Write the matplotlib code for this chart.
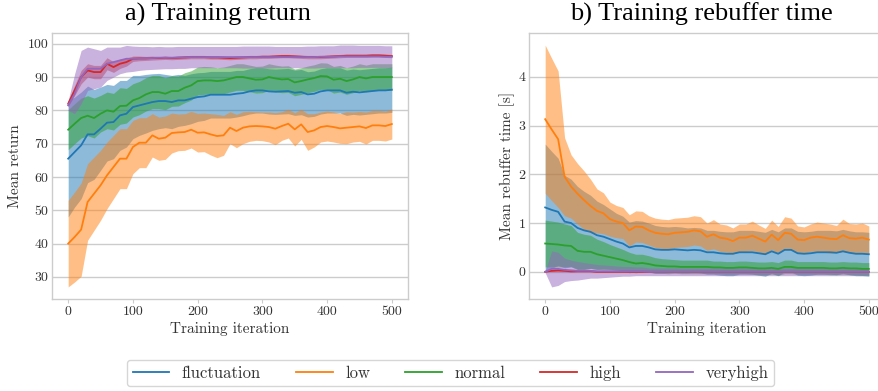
import numpy as np
import matplotlib
matplotlib.use("Agg")
import matplotlib.pyplot as plt

iterations = np.arange(0, 501, 10)

series_names = ["fluctuation", "low", "normal", "high", "veryhigh"]
colors = ["#1f77b4", "#ff7f0e", "#2ca02c", "#d62728", "#9467bd"]

# ---- a) Training return: mean and std ----
ret_fluct_mean = [65.5, 67.5, 69.5, 72.8, 72.8, 74.5, 76.3, 76.5, 78.5, 79.0,
                  81.0, 81.5, 82.0, 82.5, 82.8, 82.8, 82.5, 83.0, 83.0, 83.5,
                  84.0, 84.2, 84.7, 84.7, 84.7, 84.7, 85.0, 85.2, 85.7, 86.0,
                  86.0, 85.7, 85.6, 85.7, 85.8, 85.3, 85.5, 84.8, 85.0, 85.7,
                  86.0, 86.0, 86.0, 85.3, 85.6, 85.4, 85.6, 85.8, 86.0, 86.0, 86.2]
ret_fluct_std = [17.5, 16.5, 16.0, 14.5, 13.5, 12.5, 11.5, 11.0, 10.5, 10.0,
                 9.5, 9.0, 8.8, 8.5, 8.3, 8.0, 8.0, 7.8, 7.5, 7.5,
                 7.3, 7.2, 7.0, 7.0, 7.0, 7.0, 7.0, 6.8, 6.8, 6.8,
                 6.8, 6.8, 6.8, 6.8, 6.8, 6.8, 6.8, 6.8, 6.8, 6.8,
                 6.8, 6.8, 6.8, 6.8, 6.8, 6.8, 6.8, 6.8, 6.8, 6.8, 6.8]
ret_low_mean = [40.0, 42.0, 44.2, 52.5, 55.0, 57.5, 60.5, 63.0, 65.5, 65.5,
                69.0, 70.3, 70.3, 72.5, 71.5, 71.8, 73.2, 73.4, 73.5, 74.2,
                73.3, 73.4, 72.8, 72.3, 72.5, 74.8, 73.8, 74.8, 75.2, 75.3,
                75.2, 75.0, 74.5, 75.3, 76.0, 74.3, 75.8, 73.5, 74.0, 75.0,
                75.3, 75.0, 74.6, 74.8, 75.0, 75.2, 74.7, 75.5, 75.5, 75.3, 75.9]
ret_low_std = [13.0, 13.5, 14.0, 11.5, 11.0, 10.5, 10.0, 9.5, 9.0, 9.0,
               8.0, 7.5, 7.5, 6.5, 6.5, 6.5, 6.0, 5.5, 5.5, 5.5,
               5.8, 5.8, 6.2, 6.5, 6.0, 4.8, 5.0, 4.8, 4.5, 4.3,
               4.3, 4.5, 4.8, 4.3, 4.3, 5.0, 4.5, 5.5, 5.0, 4.5,
               4.5, 4.5, 4.5, 4.8, 4.5, 4.5, 4.8, 4.5, 4.5, 4.5, 4.5]
ret_normal_mean = [74.2, 76.0, 77.7, 78.4, 77.7, 79.0, 80.0, 79.6, 81.3, 81.4,
                   83.0, 83.7, 84.8, 85.5, 85.5, 85.0, 85.8, 85.8, 86.8, 87.5,
                   88.8, 89.0, 89.0, 88.8, 89.0, 89.5, 90.0, 90.0, 89.6, 89.2,
                   89.3, 90.0, 89.6, 89.3, 89.4, 88.4, 88.8, 89.3, 89.7, 90.3,
                   90.2, 89.2, 89.5, 88.8, 89.3, 90.0, 89.6, 90.0, 90.0, 90.0, 90.0]
ret_normal_std = [6.0, 6.0, 6.0, 6.0, 6.0, 5.5, 5.5, 5.5, 5.5, 5.2,
                  5.0, 5.0, 5.0, 5.0, 5.0, 4.8, 4.6, 4.5, 4.5, 4.4,
                  4.2, 4.2, 4.1, 4.0, 4.0, 4.0, 4.0, 4.0, 4.0, 4.0,
                  4.0, 4.0, 4.0, 4.0, 4.0, 4.0, 4.0, 4.0, 4.0, 4.0,
                  4.0, 4.0, 4.0, 4.0, 4.0, 4.0, 4.0, 4.0, 4.0, 4.0, 4.0]
ret_high_mean = [82.0, 86.0, 90.0, 92.0, 91.5, 91.5, 94.0, 93.0, 94.0, 94.5,
                 95.5, 95.6, 95.6, 95.7, 95.7, 95.8, 95.7, 95.8, 95.9, 96.0,
                 96.0, 96.0, 95.9, 95.9, 95.8, 95.7, 95.8, 95.9, 96.0, 96.0,
                 96.1, 96.1, 96.2, 96.3, 96.3, 96.2, 96.1, 96.0, 96.0, 96.0,
                 96.1, 96.2, 96.3, 96.4, 96.4, 96.4, 96.4, 96.5, 96.5, 96.4, 96.3]
ret_high_std = [0.8, 1.5, 2.0, 2.0, 2.0, 2.0, 1.8, 1.6, 1.4, 1.2,
                0.8, 0.7, 0.6, 0.6, 0.5, 0.5, 0.5, 0.5, 0.5, 0.5,
                0.5, 0.5, 0.5, 0.5, 0.5, 0.5, 0.5, 0.5, 0.5, 0.5,
                0.5, 0.5, 0.5, 0.5, 0.5, 0.5, 0.5, 0.5, 0.5, 0.5,
                0.5, 0.5, 0.5, 0.5, 0.5, 0.5, 0.5, 0.5, 0.5, 0.5, 0.5]
ret_veryhigh_mean = [81.5, 85.0, 90.0, 92.5, 92.5, 92.5, 94.0, 94.5, 95.0, 95.5,
                     95.5, 95.6, 95.7, 95.7, 95.8, 95.8, 95.8, 95.9, 95.9, 96.0,
                     96.0, 96.0, 96.0, 96.0, 96.0, 96.0, 96.0, 96.0, 96.0, 96.0,
                     96.0, 96.0, 96.0, 96.0, 96.0, 96.0, 96.0, 96.0, 96.0, 96.1,
                     96.1, 96.1, 96.2, 96.2, 96.2, 96.2, 96.2, 96.2, 96.2, 96.1, 96.1]
ret_veryhigh_std = [1.5, 6.0, 8.0, 6.5, 6.0, 5.5, 5.0, 4.5, 4.0, 4.0,
                    3.8, 3.6, 3.5, 3.4, 3.4, 3.3, 3.3, 3.3, 3.3, 3.2,
                    3.2, 3.2, 3.2, 3.2, 3.2, 3.2, 3.2, 3.3, 3.3, 3.3,
                    3.3, 3.3, 3.2, 3.2, 3.2, 3.2, 3.2, 3.3, 3.3, 3.3,
                    3.3, 3.3, 3.4, 3.4, 3.4, 3.3, 3.3, 3.3, 3.3, 3.3, 3.3]

# ---- b) Training rebuffer time: mean and std ----
reb_fluct_mean = [1.32, 1.27, 1.23, 1.03, 1.00, 0.90, 0.85, 0.82, 0.75, 0.72,
                  0.67, 0.62, 0.58, 0.50, 0.53, 0.53, 0.50, 0.46, 0.45, 0.45,
                  0.46, 0.45, 0.44, 0.45, 0.44, 0.40, 0.40, 0.38, 0.37, 0.37,
                  0.40, 0.40, 0.40, 0.38, 0.36, 0.42, 0.37, 0.45, 0.45, 0.38,
                  0.37, 0.38, 0.40, 0.40, 0.40, 0.39, 0.42, 0.39, 0.37, 0.37, 0.36]
reb_fluct_std = [1.30, 1.20, 1.10, 0.95, 0.90, 0.85, 0.80, 0.75, 0.70, 0.66,
                 0.62, 0.58, 0.56, 0.52, 0.52, 0.51, 0.50, 0.49, 0.48, 0.47,
                 0.47, 0.47, 0.46, 0.46, 0.46, 0.45, 0.45, 0.45, 0.45, 0.45,
                 0.45, 0.45, 0.45, 0.45, 0.45, 0.45, 0.45, 0.45, 0.45, 0.45,
                 0.45, 0.45, 0.45, 0.45, 0.45, 0.45, 0.45, 0.45, 0.45, 0.45, 0.45]
reb_low_mean = [3.13, 2.92, 2.72, 1.95, 1.75, 1.60, 1.47, 1.35, 1.25, 1.20,
                1.08, 1.03, 1.00, 0.85, 0.93, 0.92, 0.85, 0.80, 0.78, 0.77,
                0.80, 0.81, 0.82, 0.85, 0.83, 0.72, 0.77, 0.70, 0.68, 0.63,
                0.70, 0.70, 0.74, 0.68, 0.62, 0.76, 0.65, 0.80, 0.78, 0.66,
                0.65, 0.70, 0.72, 0.70, 0.68, 0.67, 0.75, 0.69, 0.68, 0.70, 0.66]
reb_low_std = [1.52, 1.46, 1.40, 0.80, 0.65, 0.62, 0.60, 0.55, 0.45, 0.42,
               0.35, 0.33, 0.32, 0.32, 0.32, 0.32, 0.30, 0.30, 0.30, 0.30,
               0.30, 0.30, 0.30, 0.30, 0.30, 0.28, 0.30, 0.28, 0.28, 0.27,
               0.28, 0.28, 0.30, 0.28, 0.27, 0.30, 0.28, 0.33, 0.32, 0.28,
               0.27, 0.28, 0.30, 0.30, 0.30, 0.28, 0.33, 0.30, 0.30, 0.30, 0.28]
reb_normal_mean = [0.58, 0.57, 0.56, 0.54, 0.53, 0.43, 0.41, 0.41, 0.36, 0.33,
                   0.30, 0.27, 0.24, 0.20, 0.17, 0.18, 0.16, 0.13, 0.12, 0.11,
                   0.11, 0.10, 0.10, 0.10, 0.10, 0.10, 0.09, 0.09, 0.08, 0.08,
                   0.09, 0.09, 0.08, 0.07, 0.07, 0.08, 0.06, 0.10, 0.10, 0.08,
                   0.08, 0.08, 0.08, 0.08, 0.07, 0.07, 0.08, 0.07, 0.07, 0.06, 0.06]
reb_normal_std = [0.48, 0.47, 0.46, 0.44, 0.42, 0.38, 0.36, 0.34, 0.31, 0.29,
                  0.26, 0.24, 0.22, 0.20, 0.19, 0.18, 0.17, 0.16, 0.15, 0.15,
                  0.14, 0.14, 0.14, 0.14, 0.14, 0.14, 0.13, 0.13, 0.13, 0.13,
                  0.13, 0.13, 0.13, 0.13, 0.13, 0.13, 0.13, 0.14, 0.14, 0.13,
                  0.13, 0.13, 0.13, 0.13, 0.13, 0.13, 0.13, 0.13, 0.13, 0.13, 0.13]
reb_high_mean = [0.00, 0.02, 0.03, 0.02, 0.01, 0.01, 0.01, 0.01, 0.00, 0.00,
                 0.00, 0.00, 0.00, 0.00, 0.00, 0.00, 0.00, 0.00, 0.00, 0.00,
                 0.00, 0.00, 0.00, 0.00, 0.00, 0.00, 0.00, 0.00, 0.00, 0.00,
                 0.00, 0.00, 0.00, 0.00, 0.00, 0.00, 0.00, 0.00, 0.00, 0.00,
                 0.00, 0.00, 0.00, 0.00, 0.00, 0.00, 0.00, 0.00, 0.00, 0.00, 0.00]
reb_high_std = [0.00, 0.02, 0.03, 0.02, 0.02, 0.01, 0.01, 0.01, 0.01, 0.01,
                0.01, 0.01, 0.01, 0.01, 0.01, 0.01, 0.01, 0.01, 0.01, 0.01,
                0.01, 0.01, 0.01, 0.01, 0.01, 0.01, 0.01, 0.01, 0.01, 0.01,
                0.01, 0.01, 0.01, 0.01, 0.01, 0.01, 0.01, 0.01, 0.01, 0.01,
                0.01, 0.01, 0.01, 0.01, 0.01, 0.01, 0.01, 0.01, 0.01, 0.01, 0.01]
reb_veryhigh_mean = [0.00, 0.06, 0.06, 0.04, 0.03, 0.02, 0.02, 0.02, 0.01, 0.01,
                     0.01, 0.01, 0.01, 0.01, 0.01, 0.01, 0.00, 0.00, 0.00, 0.00,
                     0.00, 0.00, 0.00, 0.00, 0.00, 0.00, 0.00, 0.00, 0.00, 0.00,
                     0.00, 0.00, 0.00, 0.00, 0.00, 0.00, 0.00, 0.00, 0.00, 0.00,
                     0.00, 0.00, 0.00, 0.00, 0.00, 0.00, 0.00, 0.00, 0.00, 0.00, 0.00]
reb_veryhigh_std = [0.02, 0.37, 0.34, 0.24, 0.21, 0.19, 0.17, 0.15, 0.14, 0.13,
                    0.12, 0.11, 0.10, 0.10, 0.09, 0.09, 0.08, 0.08, 0.08, 0.08,
                    0.08, 0.08, 0.08, 0.08, 0.08, 0.08, 0.08, 0.08, 0.08, 0.08,
                    0.08, 0.08, 0.08, 0.08, 0.08, 0.08, 0.08, 0.08, 0.08, 0.08,
                    0.08, 0.08, 0.08, 0.08, 0.08, 0.08, 0.08, 0.08, 0.08, 0.08, 0.08]

ret_means = [ret_fluct_mean, ret_low_mean, ret_normal_mean, ret_high_mean, ret_veryhigh_mean]
ret_stds = [ret_fluct_std, ret_low_std, ret_normal_std, ret_high_std, ret_veryhigh_std]
reb_means = [reb_fluct_mean, reb_low_mean, reb_normal_mean, reb_high_mean, reb_veryhigh_mean]
reb_stds = [reb_fluct_std, reb_low_std, reb_normal_std, reb_high_std, reb_veryhigh_std]

plt.rcParams["font.family"] = ["cmr10", "DejaVu Serif"]
plt.rcParams["axes.unicode_minus"] = False
plt.rcParams["mathtext.fontset"] = "cm"

W, H = 879, 391
fig = plt.figure(figsize=(W / 100, H / 100), dpi=100)

def px_axes(l, t, r, b):
    return [l / W, 1 - b / H, (r - l) / W, (b - t) / H]

ax1 = fig.add_axes(px_axes(52, 33, 408, 299))
ax2 = fig.add_axes(px_axes(529, 33, 885, 299))

grid_col = "#cccccc"
text_col = "#333333"

def style(ax):
    ax.set_facecolor("white")
    for s in ax.spines.values():
        s.set_color(grid_col)
        s.set_linewidth(1.0)
    ax.grid(axis="y", color=grid_col, linewidth=1.0)
    ax.grid(axis="x", visible=False)
    ax.set_axisbelow(True)
    ax.tick_params(axis="x", length=3, color=grid_col, labelsize=10, labelcolor=text_col, pad=2)
    ax.tick_params(axis="y", length=0, labelsize=10, labelcolor=text_col, pad=2.5)

lines = []
for ax, means, stds in [(ax1, ret_means, ret_stds), (ax2, reb_means, reb_stds)]:
    style(ax)
    for name, c, m, s in zip(series_names, colors, means, stds):
        m = np.asarray(m)
        s = np.asarray(s)
        (ln,) = ax.plot(iterations, m, color=c, lw=1.3, label=name)
        ax.fill_between(iterations, m - s, m + s, color=c, alpha=0.5, lw=0)
        if ax is ax1:
            lines.append(ln)
    ax.set_xticks([0, 100, 200, 300, 400, 500])
    ax.set_xlabel("Training iteration", fontsize=11, color=text_col, labelpad=3)

ax1.set_yticks([30, 40, 50, 60, 70, 80, 90, 100])
ax2.set_yticks([0, 1, 2, 3, 4])
ax1.set_ylabel("Mean return", fontsize=11, color=text_col, labelpad=4.5)
ax2.set_ylabel("Mean rebuffer time [s]", fontsize=11, color=text_col, labelpad=2.5)

fig.text(218 / W, 1 - 21 / H, "a) Training return", fontsize=19,
         family="Liberation Serif", ha="center", va="baseline")
fig.text(701.5 / W, 1 - 21 / H, "b) Training rebuffer time", fontsize=19,
         family="Liberation Serif", ha="center", va="baseline")

leg = fig.legend(lines, series_names, loc="center", ncol=5,
                 bbox_to_anchor=(450.5 / W, 1 - 373 / H), fontsize=12,
                 frameon=True, handlelength=2.2, columnspacing=2.1,
                 handletextpad=0.75, borderpad=0.35)
leg.get_frame().set_edgecolor(grid_col)
leg.get_frame().set_linewidth(1.0)
for t in leg.get_texts():
    t.set_color(text_col)

fig.savefig("out.png", dpi=100)
